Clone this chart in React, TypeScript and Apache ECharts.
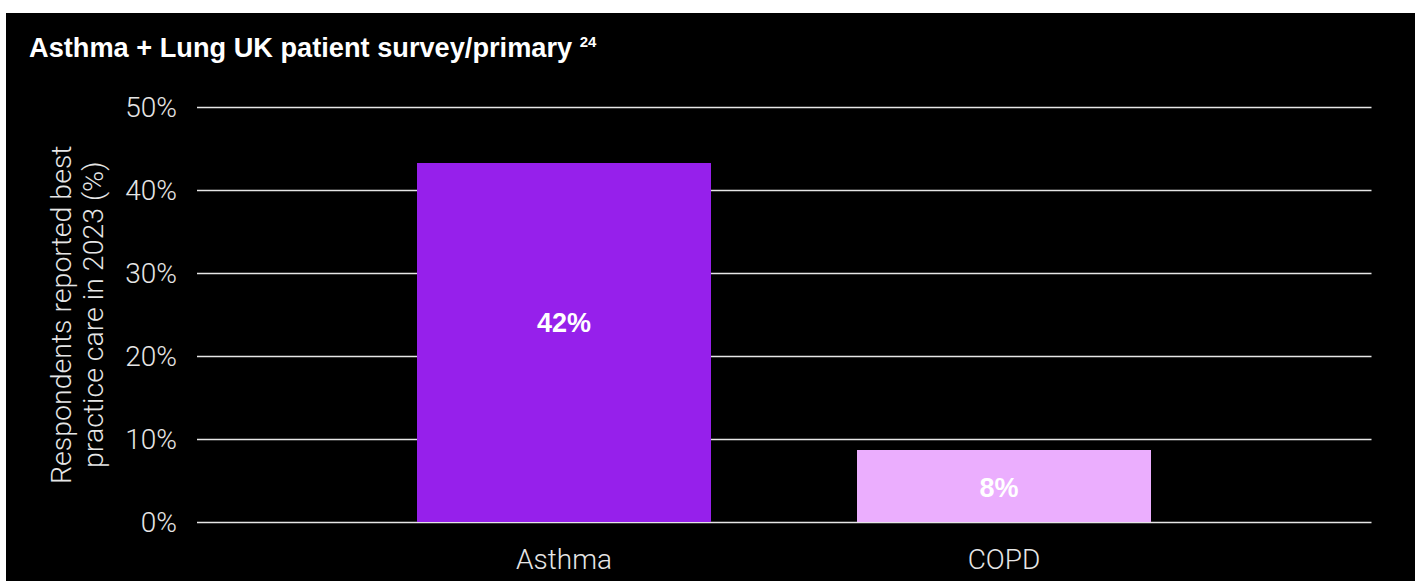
import React, { useEffect, useRef } from "react";
import * as echarts from "echarts";

const categories = ["Asthma", "COPD"];
const values = [43.3, 8.7];
const valueLabels = ["42%", "8%"];
const barColors = ["#9620EB", "#EBAEFE"];
const yTicks = [0, 10, 20, 30, 40, 50];
const titleText = "Asthma + Lung UK patient survey/primary";
const titleSup = "24";
const yAxisName = "Respondents reported best\npractice care in 2023 (%)";

export default function App() {
  const ref = useRef<HTMLDivElement>(null);
  useEffect(() => {
    if (!ref.current) return;
    const chart = echarts.init(ref.current, null, { renderer: "svg" });
    const light = "Roboto, 'Liberation Sans', sans-serif";
    const bold = "'Liberation Sans', Arial, sans-serif";
    const gridTop = 94.5;
    const gridBottom = 59;
    chart.setOption({
      animation: false,
      backgroundColor: "#000000",
      title: {
        text: `${titleText} {sup|${titleSup}}`,
        left: 18,
        top: 16,
        textStyle: {
          color: "#ffffff",
          fontFamily: bold,
          fontWeight: "bold",
          fontSize: 27.2,
          rich: {
            sup: {
              color: "#ffffff",
              fontFamily: bold,
              fontWeight: "bold",
              fontSize: 15,
              padding: [0, 0, 12, 0],
            },
          },
        },
      },
      grid: [
        { left: 191, right: 43.5, top: gridTop, bottom: gridBottom, containLabel: false },
        { left: 338, right: 191, top: gridTop, bottom: gridBottom, containLabel: false },
      ],
      xAxis: [
        { type: "category", gridIndex: 0, data: categories, show: false },
        {
          type: "category",
          gridIndex: 1,
          data: categories,
          axisLine: { show: false },
          axisTick: { show: false },
          axisLabel: {
            color: "#e6e6e6",
            fontFamily: light,
            fontWeight: 300,
            fontSize: 28,
            margin: 23,
          },
        },
      ],
      yAxis: [
        {
          type: "value",
          gridIndex: 0,
          min: yTicks[0],
          max: yTicks[yTicks.length - 1],
          interval: 10,
          axisLine: { show: false },
          axisTick: { show: false },
          splitLine: { lineStyle: { color: "#e6e6e6", width: 1.3 } },
          axisLabel: {
            color: "#e6e6e6",
            fontFamily: light,
            fontWeight: 300,
            fontSize: 28,
            margin: 20,
            formatter: (v: number) => `${v}%`,
          },
          name: yAxisName,
          nameLocation: "middle",
          nameRotate: 90,
          nameGap: 88,
          nameTextStyle: {
            color: "#e6e6e6",
            fontFamily: light,
            fontWeight: 300,
            fontSize: 28.5,
            lineHeight: 32,
            align: "center",
          },
        },
        {
          type: "value",
          gridIndex: 1,
          min: yTicks[0],
          max: yTicks[yTicks.length - 1],
          interval: 10,
          show: false,
        },
      ],
      series: [
        {
          type: "bar",
          xAxisIndex: 1,
          yAxisIndex: 1,
          barWidth: 294,
          data: values.map((v, i) => ({
            value: v,
            itemStyle: { color: barColors[i] },
            label: { offset: i === 0 ? [0, -20] : [-5, 2] },
          })),
          label: {
            show: true,
            position: "inside",
            color: "#ffffff",
            fontFamily: bold,
            fontWeight: "bold",
            fontSize: 27,
            formatter: (p: any) => valueLabels[p.dataIndex],
          },
        },
      ],
    });
    return () => chart.dispose();
  }, []);
  return (
    <div style={{ position: "absolute", left: 0, top: 0, width: 1419, height: 581, background: "#ffffff", overflow: "hidden" }}>
      <div ref={ref} style={{ position: "absolute", left: 6, top: 13, width: 1409, height: 568 }} />
    </div>
  );
}
